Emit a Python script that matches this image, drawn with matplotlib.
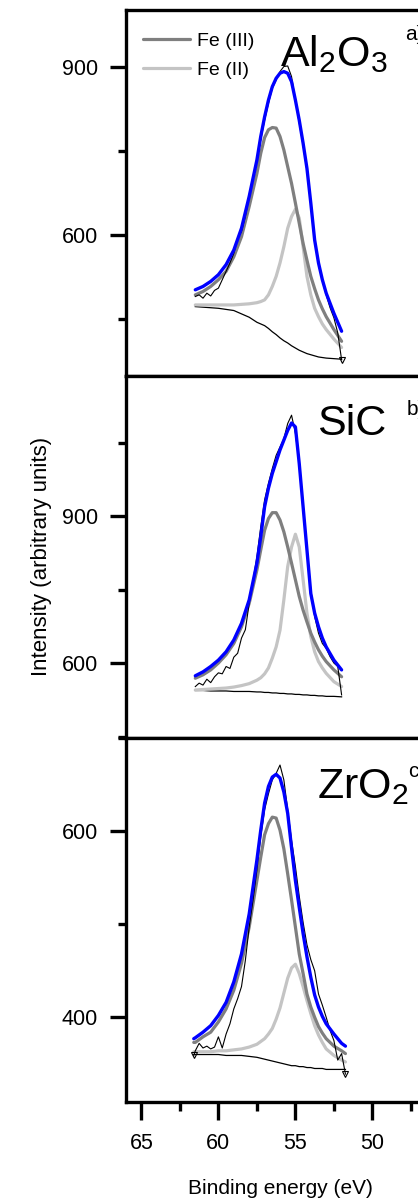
import matplotlib
matplotlib.use("Agg")
import matplotlib.pyplot as plt
from matplotlib.ticker import FixedLocator

plt.rcParams['font.family'] = ['Liberation Sans', 'DejaVu Sans']
plt.rcParams['mathtext.fontset'] = 'custom'
plt.rcParams['mathtext.rm'] = 'Liberation Sans'

# ---------------- data ----------------
x_ab = [61.5, 61.0, 60.5, 60.0, 59.5, 59.0, 58.5, 58.0, 57.5, 57.25, 57.0, 56.75, 56.5,
        56.25, 56.0, 55.75, 55.5, 55.25, 55.0, 54.75, 54.5, 54.25, 54.0, 53.75, 53.5,
        53.25, 53.0, 52.5, 52.0]
x_c = [61.6, 61.5, 61.0, 60.5, 60.0, 59.5, 59.0, 58.5, 58.0, 57.5, 57.25, 57.0, 56.75, 56.5,
       56.25, 56.0, 55.75, 55.5, 55.25, 55.0, 54.75, 54.5, 54.25, 54.0, 53.75, 53.5,
       53.25, 53.0, 52.5, 52.0, 51.75]
x_raw_ab = [61.5, 61.25, 61.0, 60.75, 60.5, 60.25, 60.0, 59.75, 59.5, 59.25, 59.0, 58.75,
            58.5, 58.25, 58.0, 57.75, 57.5, 57.25, 57.0, 56.75, 56.5, 56.25, 56.0, 55.75,
            55.5, 55.25, 55.0, 54.75, 54.5, 54.25, 54.0, 53.75, 53.5, 53.25, 53.0, 52.75,
            52.5, 52.25, 52.0]
x_raw_c = [61.6, 61.5, 61.25, 61.0, 60.75, 60.5, 60.25, 60.0, 59.75, 59.5, 59.25, 59.0,
           58.75, 58.5, 58.25, 58.0, 57.75, 57.5, 57.25, 57.0, 56.75, 56.5, 56.25, 56.0,
           55.75, 55.5, 55.25, 55.0, 54.75, 54.5, 54.25, 54.0, 53.75, 53.5, 53.25, 53.0,
           52.75, 52.5, 52.25, 52.0, 51.75]

# Panel a: Al2O3
bg_a = [472, 471, 470, 469, 467, 465, 459, 453, 444, 441, 438, 433, 427, 422, 416, 411,
        407, 402, 398, 394, 391, 388, 386, 384, 382, 381, 380, 379, 378]
fe2_a = [475, 475, 475, 475, 475, 475, 476, 477, 479, 481, 484, 493, 508, 526, 550, 579,
         612, 633, 646, 630, 579, 526, 493, 469, 454, 441, 431, 414, 399]
fe3_a = [493, 499, 508, 520, 535, 561, 597, 651, 710, 746, 774, 788, 792, 791, 776, 752,
         722, 692, 657, 621, 585, 555, 526, 504, 484, 468, 454, 431, 410]
env_a = [502, 508, 517, 529, 547, 573, 612, 669, 734, 776, 811, 841, 865, 880, 889, 892,
         889, 874, 841, 805, 764, 719, 657, 591, 550, 520, 496, 460, 428]
raw_a = [490, 493, 487, 496, 491, 501, 505, 520, 535, 550, 567, 594, 606, 633, 669, 701,
         731, 770, 805, 835, 862, 877, 892, 901, 902, 883, 841, 800, 760, 715, 660, 590,
         548, 518, 493, 470, 452, 425, 377]

# Panel b: SiC
bg_b = [544, 544, 543, 543, 543, 542, 542, 542, 541, 541, 540, 540, 539, 539, 538, 538,
        537, 537, 536, 536, 535, 535, 534, 534, 533, 533, 532, 532, 531]
fe2_b = [545, 546, 547, 548, 549, 551, 554, 558, 565, 570, 578, 590, 610, 633, 667, 729,
         797, 837, 863, 837, 770, 702, 654, 623, 603, 590, 579, 562, 552]
fe3_b = [569, 576, 586, 600, 617, 640, 674, 722, 790, 831, 871, 895, 907, 907, 892, 868,
         837, 804, 770, 736, 708, 684, 661, 643, 627, 614, 603, 586, 572]
env_b = [574, 582, 593, 606, 623, 647, 681, 729, 804, 858, 919, 957, 987, 1011, 1035, 1055,
         1075, 1090, 1082, 1007, 919, 831, 742, 702, 674, 651, 633, 606, 586]
raw_b = [552, 559, 555, 567, 560, 572, 580, 578, 593, 589, 612, 620, 651, 668, 722, 769,
         817, 878, 933, 967, 997, 1024, 1041, 1058, 1089, 1106, 1069, 1007, 926, 831, 749,
         695, 661, 640, 630, 613, 600, 593, 535]

# Panel c: ZrO2
bg_c = [360, 360, 360, 360, 360, 359, 359, 359, 358, 357, 356, 355, 354, 353, 352, 351,
        350, 349, 348, 348, 347, 347, 346, 346, 345, 345, 345, 344, 344, 344, 344]
fe2_c = [363, 363, 363, 363, 364, 364, 365, 366, 368, 371, 374, 377, 382, 388, 398, 410,
         426, 442, 453, 457, 447, 433, 418, 404, 391, 381, 373, 366, 359, 354, 352]
fe3_c = [373, 373, 379, 384, 395, 409, 429, 458, 497, 547, 572, 596, 608, 615, 614, 601,
         581, 554, 526, 497, 468, 447, 425, 411, 400, 390, 383, 377, 369, 364, 361]
env_c = [377, 378, 384, 391, 402, 416, 438, 468, 511, 569, 601, 630, 648, 658, 661, 657,
         642, 619, 582, 547, 518, 490, 465, 443, 424, 411, 401, 393, 382, 372, 369]
raw_c = [359, 364, 372, 367, 369, 366, 368, 379, 367, 382, 393, 409, 420, 433, 461, 497,
         526, 558, 594, 623, 640, 655, 662, 671, 655, 623, 590, 562, 530, 502, 478, 462,
         450, 425, 413, 400, 386, 375, 354, 361, 339]

materials = ['Al$_\\mathregular{2}$O$_\\mathregular{3}$', 'SiC', 'ZrO$_\\mathregular{2}$']
panel_tags = ['a)', 'b)', 'c)']
legend_labels = ['Fe (III)', 'Fe (II)']
x_ticks = [65, 60, 55, 50]
x_minor = [62.5, 57.5, 52.5, 47.5]
y_major = [[600, 900], [600, 900], [400, 600]]
y_minor = [[450, 750], [450, 750, 1050], [500, 700]]
y_lims = [(348, 1002), (447, 1186), (309, 700)]

# ---------------- figure ----------------
W, H = 418, 1200
fig = plt.figure(figsize=(W / 100, H / 100), dpi=100)
left = 126 / W
width = 308 / W
rows = [(10, 376), (376, 738), (738, 1102)]
axes = []
for (t, b) in rows:
    ax = fig.add_axes([left, 1 - b / H, width, (b - t) / H])
    axes.append(ax)

panels = [
    (x_ab, bg_a, fe2_a, fe3_a, env_a, x_raw_ab, raw_a, [len(raw_a) - 1]),
    (x_ab, bg_b, fe2_b, fe3_b, env_b, x_raw_ab, raw_b, []),
    (x_c, bg_c, fe2_c, fe3_c, env_c, x_raw_c, raw_c, [0, len(raw_c) - 1]),
]

c_fe3 = '#7f7f7f'
c_fe2 = '#c4c4c4'
label_pos = [(0.50, 0.847), (0.62, 0.837), (0.62, 0.835)]
tag_pos = [(0.905, 0.958), (0.912, 0.935), (0.915, 0.935)]

for i, ax in enumerate(axes):
    xg, bg, fe2, fe3, env, xr, raw, mev = panels[i]
    ax.plot(xg, bg, color='black', lw=0.9, zorder=2)
    l2, = ax.plot(xg, fe2, color=c_fe2, lw=2.3, zorder=3, solid_capstyle='round')
    l3, = ax.plot(xg, fe3, color=c_fe3, lw=2.3, zorder=4, solid_capstyle='round')
    ax.plot(xr, raw, color='black', lw=0.8, zorder=5,
            marker='v', markevery=mev if mev else None, ms=5 if mev else 0,
            mfc='none', mec='black', mew=0.8)
    ax.plot(xg, env, color='#0000ff', lw=2.4, zorder=6, solid_capstyle='round')

    ax.set_xlim(66, 46)
    ax.set_ylim(*y_lims[i])
    for s in ax.spines.values():
        s.set_linewidth(2.4)
    ax.yaxis.set_major_locator(FixedLocator(y_major[i]))
    ax.yaxis.set_minor_locator(FixedLocator(y_minor[i]))
    ax.tick_params(axis='y', which='major', direction='out', length=11.5, width=2.4,
                   labelsize=15.5, pad=8.5)
    ax.tick_params(axis='y', which='minor', direction='out', length=5.8, width=2.4)
    ax.xaxis.set_major_locator(FixedLocator(x_ticks))
    ax.xaxis.set_minor_locator(FixedLocator(x_minor))
    if i < 2:
        ax.tick_params(axis='x', which='both', bottom=False, labelbottom=False)
    else:
        ax.tick_params(axis='x', which='major', direction='out', length=13, width=2.4,
                       labelsize=15.5, pad=9)
        ax.tick_params(axis='x', which='minor', direction='out', length=6.5, width=2.4)
        ax.set_xlabel('Binding energy (eV)', fontsize=15, labelpad=18)

    ax.text(label_pos[i][0], label_pos[i][1], materials[i], transform=ax.transAxes,
            fontsize=31, va='baseline', ha='left')
    ax.text(tag_pos[i][0], tag_pos[i][1], panel_tags[i], transform=ax.transAxes,
            fontsize=15, va='top', ha='left')
    if i == 0:
        ax.legend([l3, l2], legend_labels, loc='upper left',
                  bbox_to_anchor=(0.055, 0.940), frameon=False, fontsize=14,
                  handlelength=2.4, handletextpad=0.36, labelspacing=0.62,
                  borderpad=0, borderaxespad=0)

fig.text(42 / W, 1 - 556 / H, 'Intensity (arbitrary units)', rotation=90,
         fontsize=16, ha='center', va='center')

fig.savefig('out.png', dpi=100)
